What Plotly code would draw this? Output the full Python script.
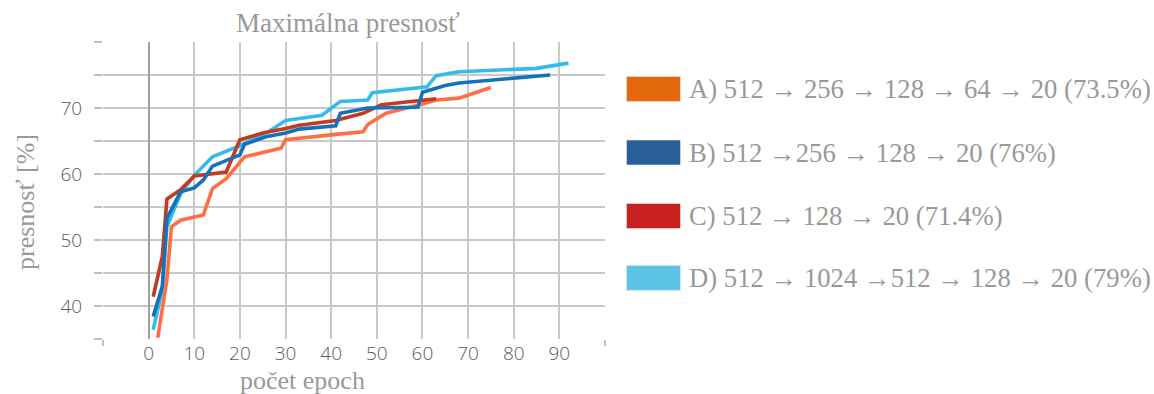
import plotly.graph_objects as go

# Epoch / best-accuracy curves for four network architectures
a_epochs = [2, 4, 5, 7, 12, 14, 17, 19, 21, 29, 30, 41, 47, 48, 52, 60, 63, 68, 75]
a_acc = [35.2, 44.0, 52.0, 53.0, 53.8, 57.8, 59.3, 61.0, 62.6, 63.9, 65.2, 66.0, 66.4, 67.5, 69.2, 70.6, 71.2, 71.5, 73.1]

b_epochs = [1, 3, 4, 7, 10, 12, 14, 20, 21, 26, 30, 33, 41, 42, 48, 59, 60, 65, 68, 88]
b_acc = [38.4, 43.0, 53.3, 57.3, 57.9, 59.1, 61.2, 62.9, 64.5, 65.7, 66.2, 66.8, 67.3, 69.2, 70.0, 70.1, 72.4, 73.4, 73.8, 75.0]

c_epochs = [1, 3, 4, 7, 10, 17, 20, 25, 30, 33, 41, 47, 51, 63]
c_acc = [41.4, 47.5, 56.2, 57.6, 59.7, 60.3, 65.2, 66.2, 66.9, 67.4, 68.1, 69.2, 70.5, 71.4]

d_epochs = [1, 3, 4, 7, 10, 14, 20, 26, 30, 38, 42, 48, 49, 61, 63, 68, 85, 92]
d_acc = [36.4, 42.5, 52.0, 57.0, 59.8, 62.6, 64.3, 66.3, 68.1, 68.9, 71.0, 71.2, 72.3, 73.2, 74.9, 75.5, 76.0, 76.8]

series_names = [
    "A) 512 → 256 → 128 → 64 → 20 (73.5%)",
    "B) 512 →256 → 128 → 20 (76%)",
    "C) 512 → 128 → 20 (71.4%)",
    "D) 512 → 1024 →512 → 128 → 20 (79%)",
]
line_colors = ["#FF6E45", "#1672B8", "#C43A1E", "#36BAEC"]
swatch_colors = ["#E3680C", "#2A6099", "#C9211E", "#5EC4E6"]

y_tick_vals = [35, 40, 45, 50, 55, 60, 65, 70, 75, 80]
y_tick_text = ["", "40", "", "50", "", "60", "", "70", "", ""]
x_tick_vals = [-10, 0, 10, 20, 30, 40, 50, 60, 70, 80, 90, 100]
x_tick_text = ["", "0", "10", "20", "30", "40", "50", "60", "70", "80", "90", ""]

W, H = 1154, 394
L, R, T, B = 103, 605, 42, 339

def px_x(p):
    return (p - L) / (R - L)

def px_y(p):
    return (B - p) / (B - T)

SERIF = "Liberation Serif"
SANS = "Open Sans"
TEXT_GREY = "#999999"
TICK_GREY = "#5a5a5a"
GRID = "#C9C9C9"

fig = go.Figure()
order = [3, 0, 2, 1]
all_x = [a_epochs, b_epochs, c_epochs, d_epochs]
all_y = [a_acc, b_acc, c_acc, d_acc]
for i in order:
    fig.add_trace(go.Scatter(
        x=all_x[i], y=all_y[i], mode="lines", name=series_names[i],
        line=dict(color=line_colors[i], width=3.6),
        showlegend=False, hoverinfo="x+y",
    ))

# Legend drawn as big colour blocks with serif labels
row_centres = [89, 152.5, 216, 278]
shapes = []
annotations = []
for i, cy in enumerate(row_centres):
    shapes.append(dict(
        type="rect", xref="paper", yref="paper",
        x0=px_x(626.5), x1=px_x(680.5), y0=px_y(cy + 12.5), y1=px_y(cy - 12.5),
        fillcolor=swatch_colors[i], line=dict(width=0.6, color="#e8e8e8"),
    ))
    annotations.append(dict(
        xref="paper", yref="paper", x=px_x(687), y=px_y(cy),
        xanchor="left", yanchor="middle", showarrow=False,
        text=series_names[i],
        font=dict(family=SERIF, size=26.7, color=TEXT_GREY),
    ))

annotations.append(dict(
    xref="paper", yref="paper", x=px_x(347.5), y=px_y(23),
    xanchor="center", yanchor="middle", showarrow=False,
    text="Maximálna presnosť",
    font=dict(family=SERIF, size=27, color=TEXT_GREY),
))
annotations.append(dict(
    xref="paper", yref="paper", x=px_x(25), y=px_y(202),
    xanchor="center", yanchor="middle", showarrow=False, textangle=-90,
    text="presnosť [%]",
    font=dict(family=SERIF, size=26, color=TEXT_GREY),
))
annotations.append(dict(
    xref="paper", yref="paper", x=px_x(302), y=px_y(380),
    xanchor="center", yanchor="middle", showarrow=False,
    text="počet epoch",
    font=dict(family=SERIF, size=26, color=TEXT_GREY),
))

fig.update_layout(
    width=W, height=H,
    margin=dict(l=L, r=W - R, t=T, b=H - B, pad=0),
    paper_bgcolor="white", plot_bgcolor="white",
    showlegend=False,
    shapes=shapes, annotations=annotations,
)
fig.update_xaxes(
    range=[-10, 100], tickmode="array", tickvals=x_tick_vals, ticktext=x_tick_text,
    showgrid=True, gridcolor=GRID, gridwidth=1.6,
    zeroline=True, zerolinecolor="#A0A0A0", zerolinewidth=2.4,
    ticks="", showline=False,
    minor=dict(tick0=-10, dtick=110, ticks="outside", ticklen=6, tickcolor="#C0C0C0", tickwidth=1.6, showgrid=False),
    tickfont=dict(family=SANS, size=19, color=TICK_GREY, weight=300),
    ticklabelstandoff=1,
)
fig.update_yaxes(
    range=[35, 80], tickmode="array", tickvals=y_tick_vals, ticktext=y_tick_text,
    showgrid=True, gridcolor=GRID, gridwidth=1.6,
    zeroline=False, showline=False,
    ticks="outside", ticklen=8, tickcolor="#C0C0C0", tickwidth=1.6,
    tickfont=dict(family=SANS, size=19, color=TICK_GREY, weight=300),
    ticklabelstandoff=8,
)

fig.write_html("out.html")
